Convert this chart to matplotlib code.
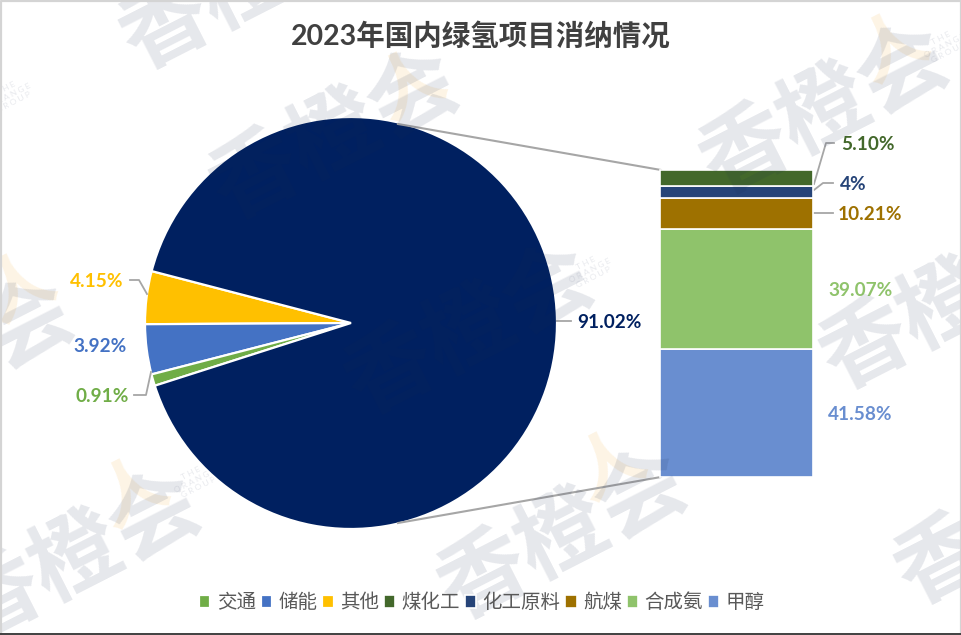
import matplotlib
matplotlib.use("Agg")
import matplotlib.pyplot as plt

plt.rcParams['font.family'] = ['Lato', 'Noto Sans CJK SC', 'DejaVu Sans']

W, H = 962, 635

# 饼图
pie_names = ['其他', '储能', '交通', '化工']
pie_values = [4.15, 3.92, 0.91, 91.02]
pie_colors = ['#FFC000', '#4472C4', '#70AD47', '#002060']

# 堆叠柱，从下往上
bar_names = ['甲醇', '合成氨', '航煤', '化工原料', '煤化工']
bar_values = [41.58, 39.07, 10.21, 4, 5.10]
bar_colors = ['#698ED0', '#8FC36B', '#9E7100', '#264478', '#43682B']

legend_order = ['交通', '储能', '其他', '煤化工', '化工原料', '航煤', '合成氨', '甲醇']

# 水印中心（像素）
wm_text = [(335, 135), (825, 110), (945, 305), (563, 535), (77, 557), (245, -15), (470, 330), (-50, 365), (1020, 520)]
wm_person = [(410, 88), (893, 50), (133, 495), (20, 290), (610, 468)]
wm_small = [(945, 45), (195, 480), (590, 270), (10, 95), (720, 450)]

fig = plt.figure(figsize=(W / 100, H / 100), dpi=100, facecolor='white')
ax = fig.add_axes([0, 0, 1, 1])


def py(y):
    # 像素坐标（从上往下）转成轴坐标
    return H - y


wedges, _ = ax.pie(pie_values, colors=pie_colors, startangle=165.4, counterclock=True,
                   center=(351, py(323)), radius=206, frame=True,
                   wedgeprops=dict(edgecolor='white', linewidth=1.6))
ax.set_xlim(0, W)
ax.set_ylim(0, H)
ax.set_aspect('equal')
ax.axis('off')

# 右侧柱子
bar_scale = 307 / sum(bar_values)
bottom = py(477)
handles = dict(zip(pie_names, wedges))
for name, val, col in zip(bar_names, bar_values, bar_colors):
    h = val * bar_scale
    b = ax.bar(737, h, width=153, bottom=bottom, color=col, edgecolor='white', linewidth=1.2, zorder=3)
    handles[name] = b[0]
    bottom += h

# 连接线
line_col = '#A6A6A6'
ax.plot([398, 661], [py(124), py(170)], color=line_col, lw=1.5, zorder=1)
ax.plot([398, 661], [py(523), py(477)], color=line_col, lw=1.5, zorder=1)

# 引导线
leaders = [([814, 826, 834], [184, 143, 143]),
           ([814, 823, 833], [190, 183, 183]),
           ([814, 833], [213, 213]),
           ([557, 571], [321, 321]),
           ([147, 139, 130], [294, 280, 280]),
           ([151, 146, 134], [372, 395, 395])]
for xs, ys in leaders:
    ax.plot(xs, [py(y) for y in ys], color=line_col, lw=1.3, zorder=2)

# 数据标签
labels = [(841, 144, '5.10%', '#43682B', 'left'), (840, 184, '4%', '#264478', 'left'),
          (838, 214, '10.21%', '#9E7100', 'left'), (828, 290, '39.07%', '#8FC36B', 'left'),
          (828, 415, '41.58%', '#698ED0', 'left'), (577, 322, '91.02%', '#002060', 'left'),
          (123, 281, '4.15%', '#FFC000', 'right'), (127, 346, '3.92%', '#4472C4', 'right'),
          (129, 396, '0.91%', '#70AD47', 'right')]
for x, y, s, c, ha in labels:
    ax.text(x, py(y), s, color=c, fontsize=13.7, fontweight='bold', ha=ha, va='center', zorder=5)

ax.text(481, py(36), '2023年国内绿氢项目消纳情况', fontsize=20.5, fontweight='bold', color='#404040',
        ha='center', va='center', zorder=5)

# 水印
for x, y in wm_text:
    ax.text(x, py(y), '香橙会', fontsize=64, fontweight='bold', color='#1A2A50', alpha=0.11,
            rotation=27, ha='center', va='center', zorder=6)
for x, y in wm_person:
    ax.text(x, py(y), '人', fontsize=50, fontweight='bold', color='#F5A623', alpha=0.12,
            rotation=27, ha='center', va='center', zorder=0.5)
for x, y in wm_small:
    ax.text(x, py(y), 'T H E\nO R A N G E\nG R O U P', fontsize=6, color='#1A2A50', alpha=0.1,
            rotation=27, ha='center', va='center', zorder=0.5)

# 外框
ax.plot([1, 1, W - 1, W - 1], [py(634), py(1), py(1), py(634)], color='#D4D4D4', lw=1.6, zorder=7)
ax.plot([0, W], [py(634), py(634)], color='#404040', lw=1.4, zorder=7)

fig.legend([handles[n] for n in legend_order], legend_order,
           ncol=8, loc='center', bbox_to_anchor=(482 / W, 1 - 602 / H), frameon=False,
           fontsize=14, labelcolor='#595959', handlelength=0.58, handleheight=0.58,
           handletextpad=0.33, columnspacing=0.25, borderpad=0)

fig.savefig('out.png', dpi=100, facecolor='white')
